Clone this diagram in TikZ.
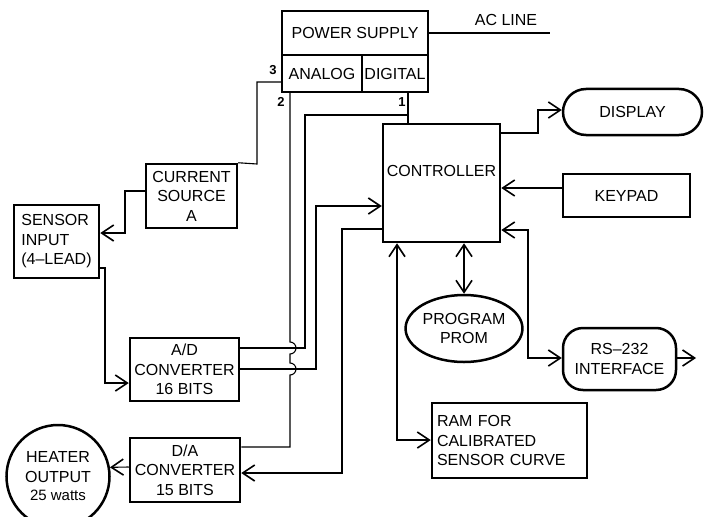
\documentclass[tikz,border=0pt]{standalone}
\usepackage{fontspec}
\setmainfont{Liberation Sans}
\usetikzlibrary{arrows.meta,shapes.geometric}
\begin{document}
\begin{tikzpicture}[x=1pt,y=-1pt,
  every node/.style={font=\fontsize{16}{19.5}\selectfont},
  blk/.style={draw, line width=2.5pt, inner sep=0pt, align=center},
  lbl/.style={font=\fontsize{13}{13}\selectfont\bfseries, inner sep=0pt},
  wire/.style={line width=1.1pt},
  arr/.style={wire, -{Straight Barb[length=12pt,width=16pt,line width=1.6pt]}},
  arrb/.style={wire, {Straight Barb[length=12pt,width=16pt,line width=1.6pt]}-{Straight Barb[length=12pt,width=16pt,line width=1.6pt]}}
]
\useasboundingbox (0,0) rectangle (708,516);

% power supply
\node[blk, minimum width=146pt, minimum height=44pt] (ps) at (355,33) {POWER SUPPLY};
\node[blk, minimum width=80pt, minimum height=37pt] (an) at (322,73.5) {ANALOG};
\node[blk, minimum width=66pt, minimum height=37pt] (dg) at (395,73.5) {DIGITAL};
\node[inner sep=0pt] (acl) at (506,20) {AC LINE};
\coordinate (acend) at (550,33);
\node[lbl] (n3) at (273,70) {3};
\node[lbl] (n2) at (281,102) {2};
\node[lbl] (n1) at (402,102) {1};

% blocks
\node[blk, minimum width=91pt, minimum height=64pt] (cs) at (191.5,196) {CURRENT\\SOURCE\\A};
\node[blk, minimum width=85pt, minimum height=73pt, align=left] (si) at (56.5,241.5) {SENSOR\\INPUT\\(4–LEAD)};
\node[blk, minimum width=109pt, minimum height=63pt] (ad) at (184.5,369.5) {A/D\\CONVERTER\\16 BITS};
\node[blk, minimum width=110pt, minimum height=64pt] (da) at (185,470) {D/A\\CONVERTER\\15 BITS};
\node[blk, circle, minimum size=103pt] (heater) at (58,476.5) {HEATER\\OUTPUT\\[-1pt]{\fontsize{15}{18}\selectfont 25 watts}};
\node[blk, minimum width=117pt, minimum height=118pt] (ctrl) at (441.5,183) {CONTROLLER\\[4pt]};
\node[blk, minimum width=139pt, minimum height=46pt, rounded corners=23pt] (disp) at (632.5,112) {DISPLAY};
\node[blk, minimum width=127pt, minimum height=43pt] (kp) at (626.5,195.5) {KEYPAD};
\node[blk, minimum width=113pt, minimum height=62pt, rounded corners=20pt] (rs) at (619.5,359) {RS–232\\INTERFACE};
\node[blk, ellipse, minimum width=100pt, minimum height=67pt] (prom) at (464,328.5) {PROGRAM\\PROM};
\node[blk, minimum width=155pt, minimum height=75pt, text width=145pt, inner sep=5pt, align=left] (ram) at (509.5,440.5) {RAM FOR\\CALIBRATED\\SENSOR CURVE};
\coordinate (rsout) at (696,358);
\coordinate (j1) at (408,115);

% power wires
\draw[wire] (ps.east) -- (acend);
\draw[wire] (an.west |- 0,82) -| (257,164) -- (cs.north east);
\draw[wire] (an.south -| 290,0) -- (290,342)
   arc[start angle=-90,end angle=90,radius=6] -- (290,363)
   arc[start angle=-90,end angle=90,radius=6] -- (290,447) -- (da.east |- 0,447);
\draw[wire] (dg.south -| 408,0) -- (ctrl.north -| 408,0);
\draw[wire] (j1) -| (305,348) -- (ad.east |- 0,348);

% signal wires
\draw[arr] (cs.west |- 0,191) -| (125,233) -- (si.east |- 0,233);
\draw[arr] (si.east |- 0,268) -| (105,383) -- (ad.west |- 0,383);
\draw[arr] (ad.east |- 0,369) -| (316,206) -- (ctrl.west |- 0,206);
\draw[arr] (ctrl.west |- 0,229) -| (342,473) -- (da.east |- 0,473);
\draw[arr] (da.west |- 0,467) -- (heater.10);
\draw[arr] (ctrl.east |- 0,133) -| (538,110) -- (disp.west |- 0,110);
\draw[arr] (kp.west |- 0,188) -- (ctrl.east |- 0,188);
\draw[arrb] (ctrl.east |- 0,230) -| (528,358) -- (rs.west |- 0,358);
\draw[arr] (rs.east |- 0,358) -- (rsout);
\draw[arrb] (ctrl.south -| prom.north) -- (prom.north);
\draw[arrb] (ctrl.south -| 397,0) |- (ram.west |- 0,440);
\end{tikzpicture}
\end{document}
